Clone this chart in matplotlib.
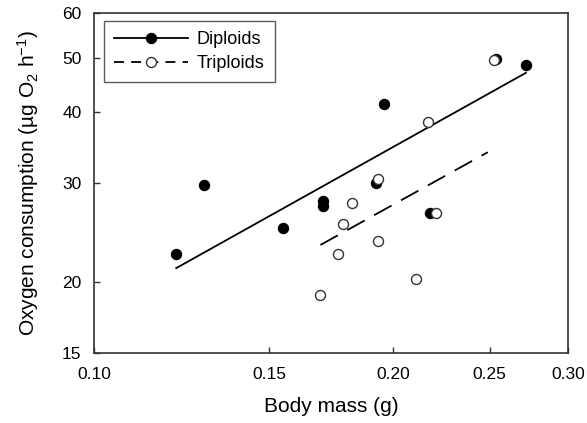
import numpy as np
import matplotlib.pyplot as plt
from matplotlib.ticker import FixedLocator, FixedFormatter, NullLocator

plt.rcParams['font.family'] = ['Liberation Sans', 'DejaVu Sans']
plt.rcParams['mathtext.default'] = 'regular'

# diploids (filled)
dip_mass = [0.121, 0.129, 0.155, 0.170, 0.170, 0.192, 0.196, 0.218, 0.254, 0.272]
dip_o2 = [22.5, 29.7, 25.0, 27.9, 27.3, 30.0, 41.4, 26.5, 49.8, 48.5]

# triploids (open)
tri_mass = [0.169, 0.176, 0.178, 0.182, 0.193, 0.193, 0.211, 0.217, 0.221, 0.2526]
tri_o2 = [19.0, 22.5, 25.4, 27.6, 30.5, 23.7, 20.3, 38.5, 26.5, 49.5]

# fitted lines (end points)
dip_fit_x = [0.121, 0.272]
dip_fit_y = [21.2, 47.0]
tri_fit_x = [0.169, 0.249]
tri_fit_y = [23.3, 34.0]

x_ticks = [0.10, 0.15, 0.20, 0.25, 0.30]
y_ticks = [15, 20, 30, 40, 50, 60]

fig = plt.figure(figsize=(5.87, 4.23), dpi=100)
ax = fig.add_axes([0.160, 0.1655, 0.808, 0.804])

ax.plot(dip_fit_x, dip_fit_y, color='black', lw=1.3, zorder=2)
ax.plot(tri_fit_x, tri_fit_y, color='black', lw=1.3, dashes=(11, 6), zorder=2)

ax.plot(dip_mass, dip_o2, 'o', color='black', ms=7.2, zorder=3)
ax.plot(tri_mass, tri_o2, 'o', mfc='white', mec='#333333', mew=1.0, ms=7.2, zorder=4)

# legend handles
h1, = ax.plot([], [], '-o', color='black', lw=1.3, ms=7.2)
h2, = ax.plot([], [], 'o', ls=(0, (5.5, 4)), color='black', lw=1.3,
              mfc='white', mec='#333333', mew=1.0, ms=7.2)
leg = ax.legend([h1, h2], ['Diploids', 'Triploids'], loc='upper left',
                bbox_to_anchor=(0.021, 0.976), borderaxespad=0, fontsize=13,
                frameon=True, fancybox=False, edgecolor='#333333',
                handlelength=4.1, handletextpad=0.5, borderpad=0.55,
                labelspacing=0.4)
leg.get_frame().set_linewidth(1.0)

ax.set_xscale('log')
ax.set_yscale('log')
ax.set_xlim(0.10, 0.30)
ax.set_ylim(15, 60)

ax.xaxis.set_major_locator(FixedLocator(x_ticks))
ax.xaxis.set_major_formatter(FixedFormatter(['%.2f' % v for v in x_ticks]))
ax.xaxis.set_minor_locator(NullLocator())
ax.yaxis.set_major_locator(FixedLocator(y_ticks))
ax.yaxis.set_major_formatter(FixedFormatter([str(v) for v in y_ticks]))
ax.yaxis.set_minor_locator(NullLocator())

ax.tick_params(direction='in', length=4, width=1, labelsize=12.5, color='#333333')
ax.tick_params(axis='x', pad=10)
ax.tick_params(axis='y', pad=9)
for s in ax.spines.values():
    s.set_linewidth(1.2)
    s.set_color('#333333')

ax.set_xlabel('Body mass (g)', fontsize=15, labelpad=11)
ax.set_ylabel('Oxygen consumption (µg O$_2$ h$^{-1}$)', fontsize=15, labelpad=15)

fig.savefig('out.png', dpi=100)
